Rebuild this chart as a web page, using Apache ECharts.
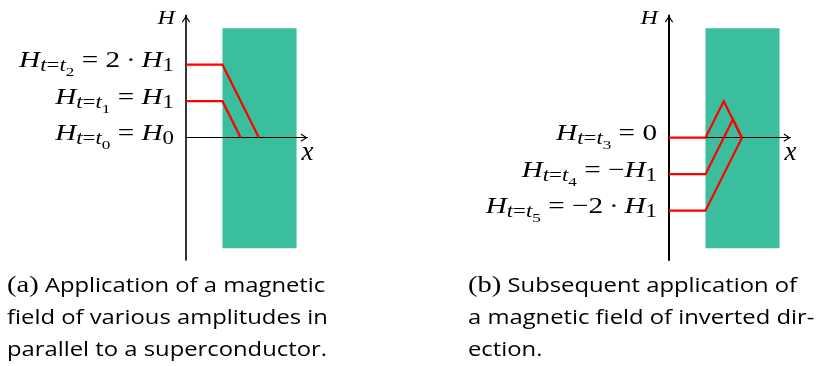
<!DOCTYPE html>
<html>
<head>
<meta charset="utf-8">
<script src="https://cdn.jsdelivr.net/npm/echarts@6/dist/echarts.min.js"></script>
<style>
  html, body { margin: 0; padding: 0; background: #fff; }
  #chart { width: 820px; height: 366px; }
</style>
</head>
<body>
<div id="chart"></div>
<script>
// Field profiles H(x), x measured from the H axis; the slab surface sits at x = 1.
const fieldT2 = [[0, 2], [1, 2], [2, 0]];
const fieldT1 = [[0, 1], [1, 1], [1.5, 0]];
const fieldT3 = [[0, 0], [1, 0], [1.5, 1], [2, 0]];
const fieldT4 = [[0, -1], [1, -1], [1.75, 0.5], [2, 0]];
const fieldT5 = [[0, -2], [1, -2], [2, 0]];

// Superconducting slab extent
const slabX = [1, 3.03];
const slabY = [-3.03, 3.0];

// Applied field levels and their labels
const levelsA = [2, 1, 0];
const labelsA = [
  '{mi|H}{si|t}{sr|=}{si|t}{ss|2}{mr| = 2\u2009·\u2009}{mi|H}{sr|1}',
  '{mi|H}{si|t}{sr|=}{si|t}{ss|1}{mr| = }{mi|H}{sr|1}',
  '{mi|H}{si|t}{sr|=}{si|t}{ss|0}{mr| = }{mi|H}{sr|0}'
];
const levelsB = [0, -1, -2];
const labelsB = [
  '{mi|H}{si|t}{sr|=}{si|t}{ss|3}{mr| = 0}',
  '{mi|H}{si|t}{sr|=}{si|t}{ss|4}{mr| = −}{mi|H}{sr|1}',
  '{mi|H}{si|t}{sr|=}{si|t}{ss|5}{mr| = −2\u2009·\u2009}{mi|H}{sr|1}'
];

const captionA = ['{p|(a)} Application of a magnetic', 'field of various amplitudes in', 'parallel to a superconductor.'];
const captionB = ['{p|(b)} Subsequent application of', 'a magnetic field of inverted dir-', 'ection.'];

const SERIF = 'Liberation Serif';
const SANS = 'Open Sans';
const RED = '#ff0000';
const GREEN = '#3abe9e';
const MATH_STRETCH = 1.27;
const CAPTION_STRETCH = 1.19;

const mathRich = {
  mi: { fontFamily: SERIF, fontStyle: 'italic', fontSize: 23, padding: [0, 0, 7, 0], verticalAlign: 'bottom', fill: '#000' },
  mr: { fontFamily: SERIF, fontSize: 23, padding: [0, 0, 7, 0], verticalAlign: 'bottom', fill: '#000' },
  si: { fontFamily: SERIF, fontStyle: 'italic', fontSize: 18, padding: [0, 0, 4, 0], verticalAlign: 'bottom', fill: '#000' },
  sr: { fontFamily: SERIF, fontSize: 18, padding: [0, 0, 4, 0], verticalAlign: 'bottom', fill: '#000' },
  ss: { fontFamily: SERIF, fontSize: 13.5, padding: [0, 0, 0, 0], verticalAlign: 'bottom', fill: '#000' }
};

const arrow = 'path://M0,7 L4.5,0 L9,7 L8,7.7 L4.5,2.2 L1,7.7 Z';

function axesFor(idx, yWidth) {
  return {
    x: {
      type: 'value', gridIndex: idx, min: 0, max: 3.33, z: 10,
      axisLine: { onZero: true, lineStyle: { color: '#000', width: 1.2 }, symbol: ['none', arrow], symbolSize: [9, 7], symbolOffset: [0, -3.5] },
      axisTick: { show: false }, axisLabel: { show: false }, splitLine: { show: false },
      name: 'x', nameLocation: 'end', nameGap: 0,
      nameTextStyle: { fontFamily: SERIF, fontStyle: 'italic', fontSize: 27, color: '#000', align: 'center', verticalAlign: 'top', padding: [2, 0, 0, 0] }
    },
    y: {
      type: 'value', gridIndex: idx, min: -3.35, max: 3.35, z: 10,
      axisLine: { onZero: true, lineStyle: { color: '#000', width: yWidth }, symbol: ['none', arrow], symbolSize: [9, 7], symbolOffset: [0, -3.5] },
      axisTick: { show: false }, axisLabel: { show: false }, splitLine: { show: false }
    }
  };
}

function profile(data, idx) {
  return {
    type: 'line', xAxisIndex: idx, yAxisIndex: idx, data: data, z: 20,
    symbol: 'none', silent: true, animation: false,
    lineStyle: { color: RED, width: 2.2, join: 'miter' }
  };
}

function slab(idx) {
  return {
    type: 'line', xAxisIndex: idx, yAxisIndex: idx, data: [], z: 1, animation: false,
    markArea: {
      silent: true,
      itemStyle: { color: GREEN, opacity: 1 },
      data: [[{ coord: [slabX[0], slabY[1]] }, { coord: [slabX[1], slabY[0]] }]]
    }
  };
}

const axA = axesFor(0, 1.6);
const axB = axesFor(1, 2);

const captionText = (lines) => ({
  text: lines.join('\n'),
  fontFamily: SANS, fontSize: 20, lineHeight: 32, fill: '#000',
  rich: { p: { fontFamily: SERIF, fontSize: 24, lineHeight: 32, fill: '#000' } }
});

const chart = echarts.init(document.getElementById('chart'), null, { renderer: 'canvas' });
chart.setOption({
  animation: false,
  backgroundColor: '#fff',
  grid: [
    { left: 186, top: 15.4, width: 121.5, height: 244.5 },
    { left: 669, top: 15.4, width: 121.5, height: 244.5 }
  ],
  xAxis: [axA.x, axB.x],
  yAxis: [axA.y, axB.y],
  series: [
    slab(0), slab(1),
    profile(fieldT2, 0), profile(fieldT1, 0),
    profile(fieldT3, 1), profile(fieldT4, 1), profile(fieldT5, 1)
  ]
});

// Level labels and the H axis title, anchored through the axes' own scales
function levelLabels(levels, texts, idx) {
  return levels.map((v, i) => {
    const p = chart.convertToPixel({ xAxisIndex: idx, yAxisIndex: idx }, [0, v]);
    return {
      type: 'text', x: p[0] - 12, y: p[1], scaleX: MATH_STRETCH, z: 30, silent: true,
      style: { text: texts[i], rich: mathRich, align: 'right', verticalAlign: 'middle', fill: '#000' }
    };
  });
}
function axisTitle(idx) {
  const top = chart.convertToPixel({ xAxisIndex: idx, yAxisIndex: idx }, [0, 3.35]);
  return {
    type: 'text', x: top[0] - 11, y: top[1] + 4, scaleX: MATH_STRETCH, z: 30, silent: true,
    style: { text: 'H', fontFamily: SERIF, fontStyle: 'italic', fontSize: 19, align: 'right', verticalAlign: 'middle', fill: '#000' }
  };
}

chart.setOption({
  graphic: [
    ...levelLabels(levelsA, labelsA, 0),
    ...levelLabels(levelsB, labelsB, 1),
    axisTitle(0), axisTitle(1),
    { type: 'text', x: 7, y: 270, scaleX: CAPTION_STRETCH, silent: true, style: captionText(captionA) },
    { type: 'text', x: 468, y: 270, scaleX: CAPTION_STRETCH, silent: true, style: captionText(captionB) }
  ]
});
</script>
</body>
</html>
